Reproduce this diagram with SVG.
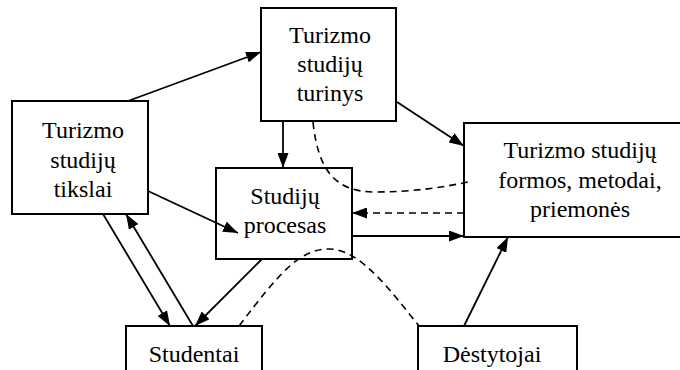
<svg xmlns="http://www.w3.org/2000/svg" width="680" height="370" viewBox="0 0 680 370">
<style>
.box{fill:#fff;stroke:#000;stroke-width:2}
text{font-family:'Liberation Serif','Times New Roman','DejaVu Serif',serif;font-size:24px;fill:#000;text-anchor:middle}
.c{fill:none;stroke:#000;stroke-width:1.8}
.d{fill:none;stroke:#000;stroke-width:1.6;stroke-dasharray:7,5}
</style>
<defs>
<marker id="ah" viewBox="0 0 15 11" refX="15" refY="5.5" markerWidth="15" markerHeight="11" markerUnits="userSpaceOnUse" orient="auto">
<path d="M0,0 L15,5.5 L0,11 Z" fill="#000"/>
</marker>
</defs>
<rect width="680" height="370" fill="#fff"/>
<g id="tikslai">
<rect class="box" x="12" y="101" width="136" height="113"/>
<text x="83" y="138">Turizmo</text>
<text x="83" y="168">studijų</text>
<text x="83" y="197">tikslai</text>
</g>
<g id="turinys">
<rect class="box" x="261" y="8" width="135" height="113"/>
<text x="330" y="43">Turizmo</text>
<text x="330" y="72">studijų</text>
<text x="330" y="101">turinys</text>
</g>
<g id="procesas">
<rect class="box" x="216" y="168" width="136" height="91"/>
<text x="285" y="204">Studijų</text>
<text x="285" y="233">procesas</text>
</g>
<g id="formos">
<rect class="box" x="464" y="123" width="240" height="114"/>
<text x="580" y="158">Turizmo studijų</text>
<text x="580" y="188">formos, metodai,</text>
<text x="580" y="217">priemonės</text>
</g>
<g id="studentai">
<rect class="box" x="126" y="326" width="136" height="60"/>
<text x="194" y="362">Studentai</text>
</g>
<g id="destytojai">
<rect class="box" x="418" y="326" width="159" height="60"/>
<text x="492" y="362">Dėstytojai</text>
</g>
<g id="connectors">
<line class="c" x1="128" y1="101" x2="261" y2="52" marker-end="url(#ah)"/>
<line class="c" x1="283" y1="121" x2="283" y2="168" marker-end="url(#ah)"/>
<line class="c" x1="397" y1="102" x2="464" y2="146" marker-end="url(#ah)"/>
<line class="c" x1="148" y1="191" x2="238" y2="233" marker-end="url(#ah)"/>
<line class="c" x1="103" y1="214" x2="170" y2="326" marker-end="url(#ah)"/>
<line class="c" x1="193" y1="326" x2="126" y2="214" marker-end="url(#ah)"/>
<line class="c" x1="262" y1="259" x2="195" y2="326" marker-end="url(#ah)"/>
<line class="c" x1="352" y1="236" x2="464" y2="236" marker-end="url(#ah)"/>
<line class="d" x1="464" y1="213" x2="352" y2="213" marker-end="url(#ah)"/>
<line class="c" x1="464" y1="326" x2="508" y2="237" marker-end="url(#ah)"/>
<path class="d" d="M313,122 C318,170 335,192 375,192 C410,192 440,188 468,182"/>
<path class="d" d="M239,326 C280,272 300,249 329,249 C360,249 390,290 419,326"/>
</g>
</svg>
